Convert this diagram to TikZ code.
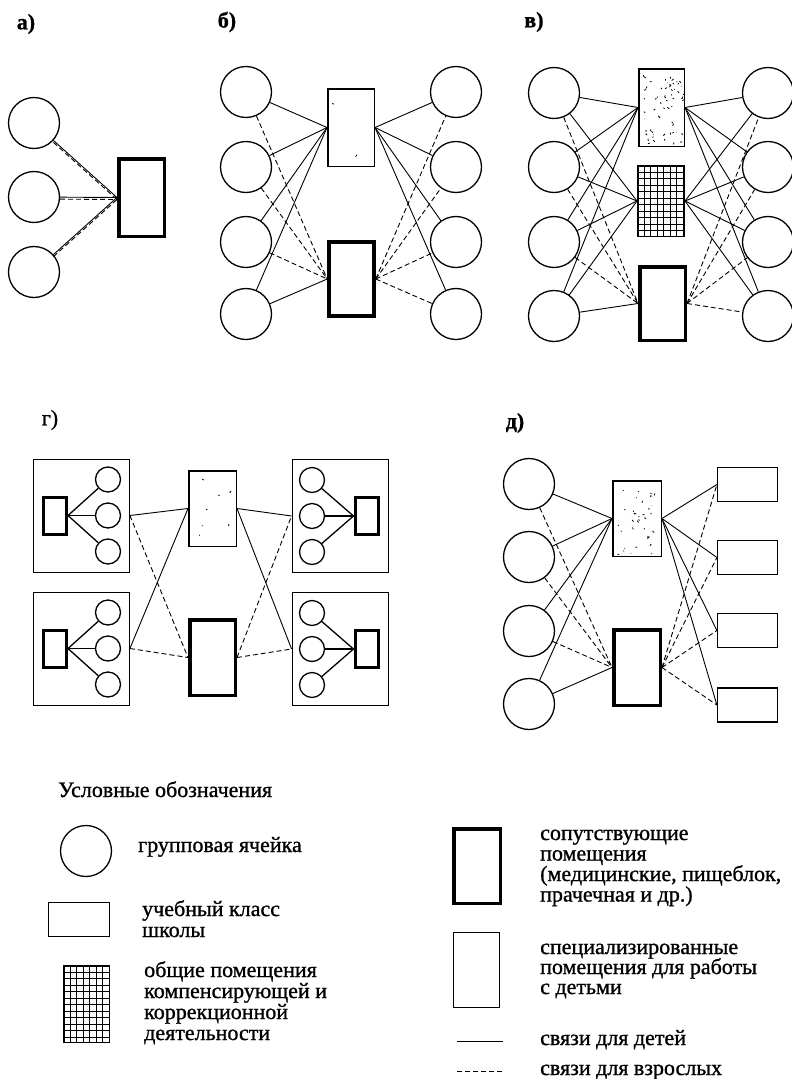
\documentclass[tikz,border=0pt]{standalone}
\usepackage{fontspec}
\setmainfont{Liberation Serif}[FakeBold=1]
\usetikzlibrary{calc}
% random specks and a fine grid used as fills of the rooms
\newcommand\specks[1]{%
	\foreach \i in {1,...,#1}
		\draw[line width=0.8pt] ($(path picture bounding box.north west)+({3+42*rnd},{3+72*rnd})$) -- ++({4*rnd-2},{4*rnd-2});
}
\newcommand\tiles{%
	\foreach \k in {1,...,8}
		\draw[line width=0.6pt] ($(path picture bounding box.north west)+(6.5*\k,0)$) -- ++(0,100);
	\foreach \k in {1,...,13}
		\draw[line width=0.6pt] ($(path picture bounding box.north west)+(0,6.5*\k)$) -- ++(60,0);
}
\tikzset{
	cell/.style={circle, draw, line width=1.3pt, minimum size=51pt, inner sep=0pt},
	room/.style={rectangle, draw, line width=1.2pt, minimum width=46pt, minimum height=76pt, inner sep=0pt},
	service/.style={room, line width=3.5pt, minimum width=45pt, minimum height=74pt},
	special/.style={room, line width=1.5pt, path picture={\specks{#1}}},
	special/.default=30,
	common/.style={room, line width=1.5pt, path picture={\tiles}},
	school/.style={room, minimum width=60pt, minimum height=34pt},
	unit/.style={room, line width=0.8pt, minimum width=96pt, minimum height=113pt},
	minicell/.style={cell, minimum size=25pt},
	miniaux/.style={service, line width=3pt, minimum width=23pt, minimum height=37pt},
	kid/.style={draw, line width=0.9pt},
	adult/.style={draw, line width=0.9pt, dash pattern=on 5pt off 3pt},
	panel/.style={font=\fontsize{22}{24}\selectfont\bfseries},
	legend/.style={anchor=base west, inner sep=0pt},
}

\begin{document}
\begin{tikzpicture}[x=1pt, y=-1pt, font=\fontsize{22}{24}\selectfont]
	\useasboundingbox (0,0) rectangle (792,1079);
	\pgfmathsetseed{12}

	% а) three cells share one service room
	\node[panel] (la) at (26,24) {а)};
	\node[service, minimum width=45.5pt, minimum height=77.5pt] (a0) at (141.5,197.5) {};
	\foreach \y [count=\i] in {123,197,272}
		\node[cell] (a\i) at (34,\y) {};
	\foreach \i in {1,2,3} {
		\draw[kid] (a\i) -- (a0.west);
		\draw[adult, transform canvas={yshift=-2pt}] (a\i) -- (a0.west);
	}

	% б) two rows of cells around two rooms
	\node[panel] (lb) at (227,22) {б)};
	\node[special=2, minimum width=46.5pt, minimum height=77.5pt] (b1) at (351,127.5) {};
	\node[service] (b2) at (351.5,279) {};
	\foreach \y [count=\i] in {92,167,242,314} {
		\node[cell] (bl\i) at (246,\y) {};
		\node[cell] (br\i) at (456,\y) {};
	}
	\foreach \i in {1,...,4} {
		\draw[kid] (bl\i) -- (b1.west);
		\draw[kid] (b1.east) -- (br\i);
		\draw[adult] (b2.east) -- (br\i);
	}
	\foreach \i in {1,2,3}
		\draw[adult] (bl\i) -- (b2.west);
	\draw[kid] (bl4) -- (b2.west);

	% в) three rooms in the middle
	\node[panel] (lc) at (534,22) {в)};
	\node[special=60, minimum width=45.5pt, minimum height=77.5pt] (c1) at (661.5,107.5) {};
	\node[common, minimum width=46.5pt, minimum height=70.5pt] (c2) at (661,201) {};
	\node[service, minimum width=45.5pt, minimum height=73.5pt] (c3) at (662.5,303.5) {};
	\foreach \y [count=\i] in {93,167,242,316} {
		\node[cell] (cl\i) at (554,\y) {};
		\node[cell] (cr\i) at (768,\y) {};
	}
	\foreach \i in {1,...,4} {
		\draw[kid] (cl\i) -- (c1.west);
		\draw[kid] (cl\i) -- (c2.west);
		\draw[kid] (c1.east) -- (cr\i);
		\draw[kid] (c2.east) -- (cr\i);
		\draw[adult] (c3.east) -- (cr\i);
	}
	\foreach \i in {1,2,3}
		\draw[adult] (cl\i) -- (c3.west);
	\draw[kid] (cl4) -- (c3.west);

	% г) group units with their own rooms
	\node[font=\fontsize{22}{24}\selectfont] (lg) at (50,420) {г)};
	\node[special=7, minimum width=47.5pt, minimum height=75.5pt] (g1) at (212.5,508.5) {};
	\node[service, minimum width=45.5pt, minimum height=75.5pt] (g2) at (212.5,657.5) {};
	\foreach \n/\x/\y/\rx/\cx/\a in {glt/81.5/515.5/55/108/east, glb/81.5/648.5/55/108/east, grt/340/516/366.5/312/west, grb/340/649/366.5/312/west} {
		\node[unit] (\n) at (\x,\y) {};
		\node[miniaux] (\n-r) at (\rx,\y) {};
		\foreach \dy [count=\k] in {-36,0,36} {
			\node[minicell] (\n-\k) at (\cx,\y+\dy) {};
			\draw[kid, line width=1.3pt] (\n-r.\a) -- (\n-\k);
		}
	}
	\draw[kid] (glt.east) -- (g1.west);
	\draw[adult] (glt.east) -- (g2.west);
	\draw[kid] (glb.east) -- (g1.west);
	\draw[adult] (glb.east) -- (g2.west);
	\draw[kid] (g1.east) -- (grt.west);
	\draw[adult] (g2.east) -- (grt.west);
	\draw[kid] (g1.east) -- (grb.west);
	\draw[adult] (g2.east) -- (grb.west);

	% д) cells and school classes
	\node[panel] (ld) at (515,423) {д)};
	\node[special=35, minimum width=48.5pt, minimum height=75.5pt] (d1) at (637,518.5) {};
	\node[service, minimum width=46.5pt, minimum height=75.5pt] (d2) at (637,667.5) {};
	\foreach \y [count=\i] in {484,557,631,704}
		\node[cell] (dl\i) at (529,\y) {};
	\foreach \y [count=\i] in {484.5,557.5,630.5,705}
		\node[school] (dr\i) at (747.5,\y) {};
	\foreach \i in {1,...,4} {
		\draw[kid] (dl\i) -- (d1.west);
		\draw[kid] (d1.east) -- (dr\i.west);
		\draw[adult] (d2.east) -- (dr\i.west);
	}
	\foreach \i in {1,2,3}
		\draw[adult] (dl\i) -- (d2.west);
	\draw[kid] (dl4) -- (d2.west);

	% legend
	\node[legend] (lt) at (58,797) {Условные обозначения};
	\node[cell] (k1) at (86,851) {};
	\node[legend] (k1t) at (138,852) {групповая ячейка};
	\node[school, minimum width=61pt, minimum height=34pt] (k2) at (79,919.5) {};
	\foreach \t [count=\i] in {учебный класс, школы}
		\node[legend] (k2t\i) at (142,{916+21*(\i-1)}) {\t};
	\node[common, minimum width=45.5pt, minimum height=76.5pt] (k3) at (86.5,1004) {};
	\foreach \t [count=\i] in {общие помещения, компенсирующей и, коррекционной, деятельности}
		\node[legend] (k3t\i) at (144,{977+21*(\i-1)}) {\t};
	\node[service, minimum width=46.5pt, minimum height=74.5pt] (k4) at (477,866) {};
	\foreach \t [count=\i] in {сопутствующие, помещения, {(медицинские, пищеблок,}, {прачечная и др.)}}
		\node[legend] (k4t\i) at (540,{840+20.5*(\i-1)}) {\t};
	\node[room, minimum width=45.5pt, minimum height=74.5pt] (k5) at (476.5,970) {};
	\foreach \t [count=\i] in {специализированные, помещения для работы, с детьми}
		\node[legend] (k5t\i) at (540,{954+20*(\i-1)}) {\t};
	\coordinate (k6a) at (457,1041);
	\coordinate (k6b) at (503,1041);
	\draw[kid] (k6a) -- (k6b);
	\node[legend] (k6t) at (540,1045) {связи для детей};
	\coordinate (k7a) at (457,1071);
	\coordinate (k7b) at (503,1071);
	\draw[adult] (k7a) -- (k7b);
	\node[legend] (k7t) at (540,1075) {связи для взрослых};
\end{tikzpicture}
\end{document}
